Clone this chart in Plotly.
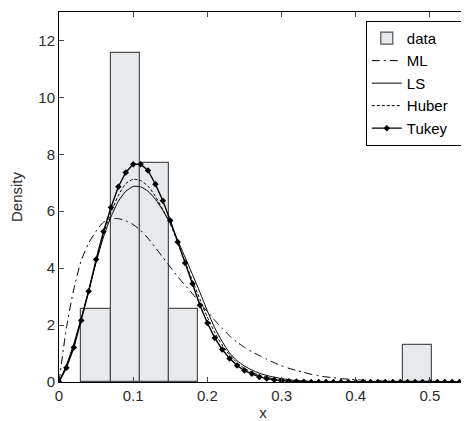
import plotly.graph_objects as go

# ---- data ----
x_grid = [i / 100 for i in range(56)]  # 0.00 ... 0.55

ml = [0, 1.9, 3.27, 4.27, 4.88, 5.3, 5.62, 5.73, 5.74, 5.66,
      5.53, 5.33, 5.05, 4.72, 4.38, 4.04, 3.7, 3.4, 3.1, 2.78,
      2.47, 2.17, 1.88, 1.62, 1.4, 1.22, 1.06, 0.93, 0.8, 0.68,
      0.57, 0.48, 0.41, 0.34, 0.27, 0.22, 0.18, 0.15, 0.12, 0.1,
      0.08, 0.065, 0.05, 0.04, 0.03, 0.025, 0.02, 0.015, 0.01, 0.008,
      0.006, 0.005, 0.004, 0.003, 0.002, 0.001]

ls = [0, 0.6, 1.35, 2.25, 3.2, 4.2, 5.1, 5.8, 6.35, 6.7,
      6.87, 6.86, 6.7, 6.42, 6.03, 5.58, 4.98, 4.38, 3.77, 3.15,
      2.5, 1.9, 1.42, 1.02, 0.75, 0.56, 0.42, 0.31, 0.23, 0.17,
      0.12, 0.08, 0.05, 0.03, 0.02, 0.01, 0, 0, 0, 0,
      0, 0, 0, 0, 0, 0, 0, 0, 0, 0,
      0, 0, 0, 0, 0, 0]

huber = [0, 0.55, 1.3, 2.2, 3.2, 4.25, 5.2, 5.95, 6.55, 6.97,
         7.12, 7.08, 6.88, 6.52, 6.05, 5.55, 4.9, 4.22, 3.55, 2.9,
         2.28, 1.74, 1.3, 0.95, 0.68, 0.48, 0.34, 0.24, 0.16, 0.11,
         0.07, 0.045, 0.03, 0.015, 0.008, 0.004, 0, 0, 0, 0,
         0, 0, 0, 0, 0, 0, 0, 0, 0, 0,
         0, 0, 0, 0, 0, 0]

tukey = [0, 0.5, 1.21, 2.16, 3.19, 4.3, 5.29, 6.13, 6.86, 7.36,
         7.65, 7.65, 7.43, 6.95, 6.37, 5.67, 4.92, 4.18, 3.45, 2.7,
         2.07, 1.55, 1.14, 0.83, 0.58, 0.4, 0.29, 0.18, 0.12, 0.08,
         0.05, 0.03, 0.02, 0.01, 0, 0, 0, 0, 0, 0,
         0, 0, 0, 0, 0, 0, 0, 0, 0, 0,
         0, 0, 0, 0, 0, 0]

bin_centers = [0.0500, 0.0894, 0.1288, 0.1682, 0.4834]
bin_heights = [2.57, 11.55, 7.70, 2.57, 1.31]
bin_width = 0.0394

x_ticks = [0, 0.1, 0.2, 0.3, 0.4, 0.5]
y_ticks = [0, 2, 4, 6, 8, 10, 12]

pad = "\u00a0\u00a0\u00a0"  # widens the legend box a little

# ---- figure ----
fig = go.Figure()
fig.add_trace(go.Bar(x=bin_centers, y=bin_heights, width=bin_width, name="data" + pad,
                     marker=dict(color="#e6eaec", line=dict(color="#505050", width=1.2))))
fig.add_trace(go.Scatter(x=x_grid, y=ml, mode="lines", name="ML" + pad,
                         line=dict(color="black", width=1, dash="8px,4px,2px,4px",
                                   shape="spline", smoothing=0.6)))
fig.add_trace(go.Scatter(x=x_grid, y=ls, mode="lines", name="LS" + pad,
                         line=dict(color="black", width=1, shape="spline", smoothing=0.6)))
fig.add_trace(go.Scatter(x=x_grid, y=huber, mode="lines", name="Huber" + pad,
                         line=dict(color="black", width=1, dash="3px,2px",
                                   shape="spline", smoothing=0.6)))
fig.add_trace(go.Scatter(x=x_grid, y=tukey, mode="lines+markers", name="Tukey" + pad,
                         line=dict(color="black", width=1.4),
                         marker=dict(symbol="diamond", size=5, color="black")))

font = dict(family="Liberation Sans, Arial, sans-serif", size=15, color="#2b2b2b")
fig.update_layout(
    width=461, height=413,
    margin=dict(l=51, r=2, t=4, b=39),
    paper_bgcolor="white", plot_bgcolor="white",
    font=font,
    bargap=0,
    showlegend=True,
    legend=dict(x=0.9995, y=0.976, xanchor="right", yanchor="top",
                bgcolor="white", bordercolor="black", borderwidth=1,
                font=dict(family="Liberation Sans, Arial, sans-serif", size=15, color="black"),
                tracegroupgap=0),
)
fig.update_xaxes(range=[0, 0.55], tickvals=x_ticks, ticks="inside", ticklen=5,
                 showline=True, linecolor="black", linewidth=1, mirror="ticks",
                 showgrid=False, zeroline=False,
                 title=dict(text="x", font=font, standoff=4))
fig.update_yaxes(range=[0, 13], tickvals=y_ticks, ticks="inside", ticklen=5,
                 showline=True, linecolor="black", linewidth=1, mirror="ticks",
                 showgrid=False, zeroline=False,
                 title=dict(text="Density", font=font, standoff=12))

fig.write_html("out.html")
